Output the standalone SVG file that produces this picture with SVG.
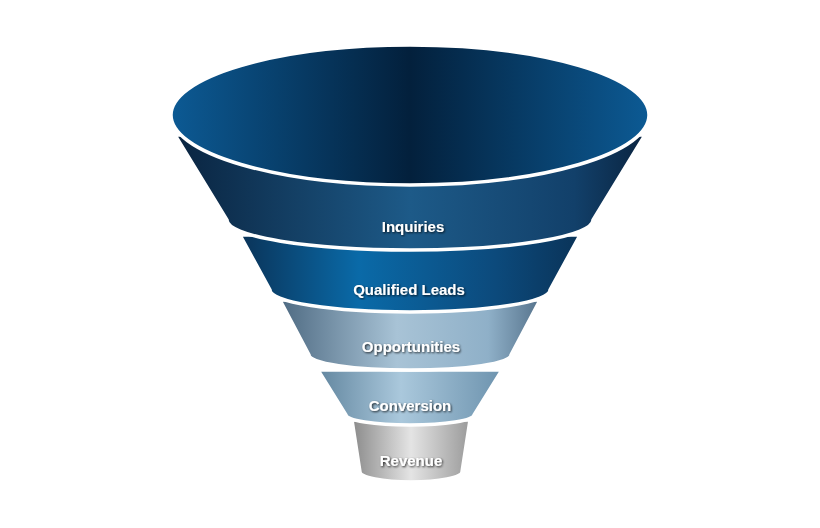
<svg xmlns="http://www.w3.org/2000/svg" width="820" height="528" viewBox="0 0 820 528">
<defs>
<linearGradient id="g1" x1="0" x2="1"><stop offset="0" stop-color="#0a2440"/><stop offset="0.5" stop-color="#1d5a88"/><stop offset="0.85" stop-color="#12406a"/><stop offset="1" stop-color="#0a2440"/></linearGradient>
<linearGradient id="g2" x1="0" x2="1"><stop offset="0" stop-color="#0a3358"/><stop offset="0.35" stop-color="#0a6aa8"/><stop offset="0.75" stop-color="#0c4a7c"/><stop offset="1" stop-color="#0a3358"/></linearGradient>
<linearGradient id="g3" x1="0" x2="1"><stop offset="0" stop-color="#4e6a82"/><stop offset="0.45" stop-color="#a8c3d6"/><stop offset="0.8" stop-color="#8fb0c8"/><stop offset="1" stop-color="#56738c"/></linearGradient>
<linearGradient id="g4" x1="0" x2="1"><stop offset="0" stop-color="#62869f"/><stop offset="0.45" stop-color="#aac8dc"/><stop offset="1" stop-color="#6d93ae"/></linearGradient>
<linearGradient id="g5" x1="0" x2="1"><stop offset="0" stop-color="#8a8a8a"/><stop offset="0.5" stop-color="#e4e4e4"/><stop offset="1" stop-color="#9a9a9a"/></linearGradient>
<linearGradient id="gt" x1="0" x2="1"><stop offset="0" stop-color="#0c5a94"/><stop offset="0.5" stop-color="#03203c"/><stop offset="1" stop-color="#0c5a94"/></linearGradient>
<filter id="sh"><feDropShadow dx="1" dy="1" stdDeviation="0.8" flood-color="#000" flood-opacity="0.8"/></filter>
</defs>
<style>
.b{stroke:#fff;stroke-width:3.5}
.t{font-family:"Liberation Sans",Arial,sans-serif;font-weight:bold;font-size:15px;fill:#fff;text-anchor:middle;filter:url(#sh)}
</style>
<g id="revenue"><path class="b" d="M352,420 L360,472 A51 10 0 0 0 462,472 L470,420 Z" fill="url(#g5)"/><text class="t" x="411" y="466" fill="#eee">Revenue</text></g>
<g id="conversion"><path class="b" d="M318,370 L346,415 A64 10 0 0 0 474,415 L502,370 Z" fill="url(#g4)"/><text class="t" x="410" y="411">Conversion</text></g>
<g id="opportunities"><path class="b" d="M280,300 L309,355 A101 15 0 0 0 511,355 L540,300 Z" fill="url(#g3)"/><text class="t" x="411" y="352">Opportunities</text></g>
<g id="qualified"><path class="b" d="M240,235 L270,290 A140 22 0 0 0 550,290 L580,235 Z" fill="url(#g2)"/><text class="t" x="409" y="295">Qualified Leads</text></g>
<g id="inquiries"><path class="b" d="M175,135 L227,220 A183 30 0 0 0 593,220 L645,135 Z" fill="url(#g1)"/><text class="t" x="413" y="232">Inquiries</text></g>
<g id="top"><ellipse class="b" cx="410" cy="115" rx="239" ry="70" fill="url(#gt)"/></g>
<g id="connectors"/>
</svg>
